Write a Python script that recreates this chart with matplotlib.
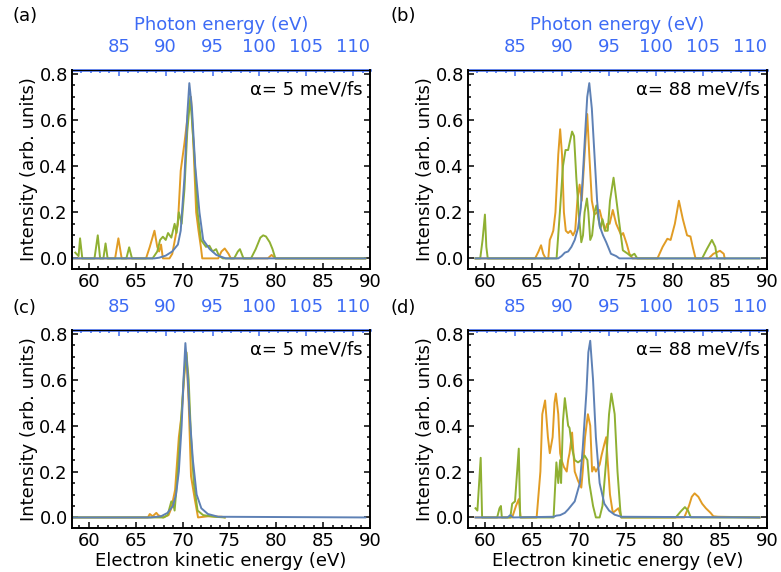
import matplotlib
matplotlib.use("Agg")
import matplotlib.pyplot as plt
from matplotlib.ticker import MultipleLocator

# spectra, electron kinetic energy (eV) vs intensity
# panel (a): alpha = 5 meV/fs
a_orange_x = [58.25, 62.8, 63.15, 63.5, 66.1, 66.5, 67.0, 67.3, 67.5, 67.7, 67.9, 68.6, 68.9,
              69.5, 69.8, 70.2, 70.55, 70.9, 71.15, 71.45, 71.7, 71.95, 72.1, 73.8, 74.15, 74.5,
              74.9, 75.15, 79.1, 79.5, 79.9, 89.5]
a_orange_y = [0, 0, 0.087, 0, 0, 0.05, 0.12, 0.05, 0.03, 0.06, 0.0, 0.0, 0.02,
              0.15, 0.38, 0.5, 0.62, 0.70, 0.5, 0.2, 0.12, 0.05, 0.0, 0.0, 0.03, 0.043,
              0.02, 0.0, 0.0, 0.015, 0.0, 0]
a_green_x = [58.55, 58.9, 59.06, 59.3, 60.6, 60.95, 61.2, 61.55, 61.78, 62.0, 64.0, 64.3, 64.6,
             66.8, 67.3, 67.6, 67.9, 68.2, 68.45, 68.8, 69.15, 69.35, 69.6, 69.9, 70.2, 70.5,
             70.83, 71.25, 71.6, 71.96, 72.5, 72.86, 73.2, 73.58, 73.9, 74.3, 75.5, 75.9, 76.12,
             76.5, 77.3, 77.8, 78.3, 78.6, 78.9, 79.3, 79.6, 79.9, 89.5]
a_green_y = [0.025, 0.01, 0.087, 0.0, 0.0, 0.10, 0.0, 0.0, 0.065, 0.0, 0.0, 0.048, 0.0,
             0.0, 0.03, 0.08, 0.094, 0.08, 0.11, 0.09, 0.15, 0.11, 0.2, 0.15, 0.3, 0.55,
             0.70, 0.45, 0.2, 0.08, 0.05, 0.055, 0.03, 0.04, 0.01, 0.0, 0.0, 0.03, 0.04,
             0.0, 0.0, 0.04, 0.09, 0.10, 0.095, 0.07, 0.04, 0.0, 0]
a_blue_x = [58.25, 67.0, 67.5, 68.2, 68.9, 69.5, 69.8, 70.2, 70.5, 70.72, 71.0, 71.35, 71.8,
            72.2, 72.9, 73.6, 74.6, 89.5]
a_blue_y = [0, 0, 0.003, 0.012, 0.03, 0.06, 0.12, 0.35, 0.62, 0.76, 0.65, 0.4, 0.2,
            0.08, 0.04, 0.015, 0.0, 0]

# panel (b): alpha = 88 meV/fs
b_orange_x = [59.0, 65.34, 65.7, 65.97, 66.2, 66.46, 66.74, 66.9, 67.1, 67.27, 67.5, 67.8, 68.0,
              68.2, 68.4, 68.6, 68.85, 69.1, 69.37, 69.6, 69.83, 70.07, 70.3, 70.6, 70.88, 71.1,
              71.37, 71.65, 71.93, 72.2, 72.5, 72.75, 73.0, 73.26, 73.6, 73.96, 74.5, 74.7, 75.1,
              75.37, 75.7, 78.35, 78.9, 79.4, 79.75, 80.2, 80.63, 81.05, 81.5, 81.86, 82.1, 82.4,
              83.8, 84.3, 85.0, 85.4, 85.5]
b_orange_y = [0, 0, 0.03, 0.057, 0.02, 0.0, 0.0, 0.08, 0.1, 0.12, 0.2, 0.45, 0.56,
              0.45, 0.2, 0.12, 0.11, 0.12, 0.1, 0.12, 0.25, 0.32, 0.25, 0.45, 0.626, 0.45,
              0.25, 0.19, 0.2, 0.21, 0.16, 0.12, 0.15, 0.15, 0.21, 0.15, 0.1, 0.11, 0.06,
              0.02, 0.0, 0.0, 0.05, 0.085, 0.08, 0.15, 0.25, 0.17, 0.1, 0.095, 0.05, 0.0,
              0.0, 0.02, 0.033, 0.02, 0.0]
b_green_x = [59.0, 59.5, 59.75, 60.0, 60.15, 60.3, 67.62, 67.97, 68.3, 68.57, 68.85, 69.0, 69.27,
             69.48, 69.72, 69.97, 70.25, 70.43, 70.6, 70.85, 71.0, 71.2, 71.4, 71.65, 71.86, 72.07,
             72.3, 72.5, 72.8, 73.06, 73.3, 73.68, 73.9, 74.3, 74.67, 75.2, 75.5, 75.9, 76.2,
             83.1, 83.6, 84.14, 84.5, 84.7, 89.2]
b_green_y = [0, 0.0, 0.08, 0.19, 0.05, 0.0, 0.0, 0.2, 0.4, 0.47, 0.47, 0.5, 0.55,
             0.53, 0.35, 0.2, 0.07, 0.1, 0.2, 0.26, 0.2, 0.08, 0.1, 0.2, 0.23, 0.17,
             0.13, 0.17, 0.12, 0.12, 0.25, 0.35, 0.28, 0.15, 0.035, 0.02, 0.01, 0.02, 0.0,
             0.0, 0.04, 0.08, 0.05, 0.0, 0]
b_blue_x = [59.0, 67.8, 68.15, 68.5, 68.85, 69.2, 69.55, 69.9, 70.2, 70.4, 70.67, 70.88, 71.1,
            71.37, 71.65, 71.93, 72.2, 72.56, 72.9, 73.4, 73.96, 74.3, 89.2]
b_blue_y = [0, 0, 0.01, 0.025, 0.03, 0.05, 0.08, 0.13, 0.22, 0.35, 0.55, 0.7, 0.76,
            0.65, 0.45, 0.25, 0.14, 0.10, 0.07, 0.02, 0.01, 0.0, 0]

# panel (c): alpha = 5 meV/fs
c_orange_x = [58.25, 66.3, 66.5, 66.8, 67.2, 67.4, 67.9, 68.5, 68.8, 69.2, 69.6, 69.9, 70.15,
              70.4, 70.65, 70.9, 71.3, 71.65, 72.7, 74.2, 74.5]
c_orange_y = [0, 0, 0.015, 0.005, 0.02, 0.01, 0.0, 0.01, 0.04, 0.12, 0.35, 0.45, 0.6,
              0.72, 0.5, 0.18, 0.08, 0.0, 0.005, 0.003, 0]
c_green_x = [58.25, 68.0, 68.4, 68.8, 69.0, 69.15, 69.4, 69.8, 70.15, 70.4, 70.65, 70.9, 71.2,
             71.6, 72.2, 73.4, 74.5]
c_green_y = [0, 0, 0.01, 0.07, 0.06, 0.03, 0.15, 0.4, 0.62, 0.72, 0.6, 0.35, 0.15,
             0.03, 0.01, 0.003, 0]
c_blue_x = [58.25, 66.6, 67.7, 68.4, 68.97, 69.3, 69.6, 69.9, 70.1, 70.3, 70.5, 70.75, 71.1,
            71.5, 72.0, 72.7, 73.8, 89.5]
c_blue_y = [0, 0, 0.005, 0.02, 0.05, 0.1, 0.2, 0.4, 0.6, 0.76, 0.65, 0.45, 0.25,
            0.1, 0.04, 0.015, 0.003, 0]

# panel (d): alpha = 88 meV/fs
d_orange_x = [59.0, 62.9, 63.3, 63.6, 63.8, 65.5, 65.9, 66.1, 66.4, 66.7, 66.9, 67.2, 67.4,
              67.55, 67.8, 68.0, 68.15, 68.4, 68.7, 68.85, 69.0, 69.27, 69.55, 69.9, 70.25, 70.4,
              70.65, 70.95, 71.2, 71.4, 71.6, 71.8, 72.2, 72.4, 72.7, 72.9, 73.05, 73.3, 73.6,
              73.9, 74.2, 74.5, 81.2, 81.7, 82.0, 82.3, 82.7, 83.1, 83.5, 84.0, 84.3, 84.8, 89.2]
d_orange_y = [0, 0, 0.05, 0.08, 0.0, 0.0, 0.2, 0.45, 0.51, 0.35, 0.28, 0.35, 0.5,
              0.54, 0.45, 0.28, 0.25, 0.22, 0.2, 0.25, 0.28, 0.37, 0.2, 0.16, 0.13, 0.2,
              0.35, 0.45, 0.4, 0.2, 0.22, 0.2, 0.23, 0.27, 0.32, 0.35, 0.25, 0.1, 0.02,
              0.03, 0.04, 0.0, 0.0, 0.05, 0.09, 0.105, 0.09, 0.06, 0.04, 0.02, 0.005, 0.003, 0]
d_green_x = [59.0, 59.2, 59.55, 59.7, 61.3, 61.55, 61.7, 61.8, 62.7, 62.9, 63.2, 63.6, 63.75,
             67.3, 67.6, 67.8, 68.0, 68.1, 68.3, 68.5, 68.85, 69.0, 69.27, 69.55, 69.9, 70.25,
             70.6, 70.9, 71.1, 71.5, 71.8, 72.2, 72.5, 72.9, 73.2, 73.45, 73.8, 74.1, 74.4,
             74.5, 80.3, 80.8, 81.27, 81.6, 81.9, 89.2]
d_green_y = [0.04, 0.03, 0.26, 0.0, 0.0, 0.04, 0.05, 0.0, 0.0, 0.06, 0.07, 0.3, 0.0,
             0.0, 0.24, 0.15, 0.25, 0.15, 0.42, 0.52, 0.40, 0.39, 0.3, 0.25, 0.24, 0.25,
             0.27, 0.25, 0.15, 0.05, 0.0, 0.0, 0.05, 0.25, 0.45, 0.54, 0.45, 0.2, 0.03,
             0.0, 0.0, 0.025, 0.045, 0.03, 0.0, 0]
d_blue_x = [59.0, 62.4, 62.7, 63.0, 67.3, 67.6, 68.0, 68.5, 68.85, 69.55, 70.1, 70.4, 70.8,
            71.0, 71.2, 71.5, 71.8, 72.2, 72.7, 73.2, 73.8, 74.5, 89.2]
d_blue_y = [0, 0, 0.01, 0.0, 0.003, 0.008, 0.01, 0.02, 0.035, 0.07, 0.15, 0.3, 0.55,
            0.72, 0.77, 0.6, 0.35, 0.15, 0.06, 0.03, 0.012, 0.003, 0]

panel_labels = ["(a)", "(b)", "(c)", "(d)"]
alpha_labels = ["\u03b1= 5 meV/fs", "\u03b1= 88 meV/fs", "\u03b1= 5 meV/fs", "\u03b1= 88 meV/fs"]
photon_ticks = [85, 90, 95, 100, 105, 110]
ip_offset = 21.8  # photon energy = electron energy + offset

c_orange = "#e19c24"
c_green = "#8fb032"
c_blue = "#5e81b5"
c_top = "#3d6bf5"

fs = 13
plt.rcParams["font.family"] = "DejaVu Sans"

fig = plt.figure(figsize=(7.81, 5.72), dpi=100)
W, H = 781.0, 572.0
rects = [(72, 70, 370, 269), (468, 70, 767, 269), (72, 330, 370, 528), (468, 330, 767, 528)]
data = [
    (a_orange_x, a_orange_y, a_green_x, a_green_y, a_blue_x, a_blue_y),
    (b_orange_x, b_orange_y, b_green_x, b_green_y, b_blue_x, b_blue_y),
    (c_orange_x, c_orange_y, c_green_x, c_green_y, c_blue_x, c_blue_y),
    (d_orange_x, d_orange_y, d_green_x, d_green_y, d_blue_x, d_blue_y),
]
label_pos = [(12, 16), (390, 16), (12, 308), (390, 308)]

for i in range(4):
    l, t, r, b = rects[i]
    ax = fig.add_axes([l / W, 1 - b / H, (r - l) / W, (b - t) / H])
    ox, oy, gx, gy, bx, by = data[i]
    ax.plot(ox, oy, color=c_orange, lw=1.4)
    ax.plot(gx, gy, color=c_green, lw=1.4)
    ax.plot(bx, by, color=c_blue, lw=1.4)

    ax.set_xlim(58.2, 90)
    ax.set_ylim(-0.046, 0.817)
    ax.set_xticks([60, 65, 70, 75, 80, 85, 90])
    ax.set_yticks([0.0, 0.2, 0.4, 0.6, 0.8])
    ax.set_yticklabels(["0.0", "0.2", "0.4", "0.6", "0.8"])
    ax.xaxis.set_minor_locator(MultipleLocator(1))
    ax.yaxis.set_minor_locator(MultipleLocator(0.05))
    ax.tick_params(which="both", direction="in", top=False, right=True, labelsize=fs, width=1.1)
    ax.tick_params(which="major", length=4.5, pad=3)
    ax.tick_params(which="minor", length=2.2)
    for s in ["left", "right", "bottom"]:
        ax.spines[s].set_linewidth(1.4)
    ax.set_ylabel("Intensity (arb. units)", fontsize=fs, labelpad=1)
    if i >= 2:
        ax.set_xlabel("Electron kinetic energy (eV)", fontsize=fs, labelpad=1)

    sec = ax.secondary_xaxis("top", functions=(lambda e: e + ip_offset, lambda p: p - ip_offset))
    sec.set_xticks(photon_ticks)
    sec.xaxis.set_minor_locator(MultipleLocator(1))
    sec.tick_params(which="both", direction="in", colors=c_top, labelsize=fs, pad=10, width=1.1)
    sec.tick_params(which="major", length=4.5)
    sec.tick_params(which="minor", length=2.2)
    sec.spines["top"].set_color(c_top)
    sec.spines["top"].set_linewidth(1.8)
    if i < 2:
        sec.set_xlabel("Photon energy (eV)", color=c_top, fontsize=fs, labelpad=6)

    ax.text(0.975, 0.9, alpha_labels[i], transform=ax.transAxes, ha="right", va="center",
            fontsize=fs)
    lx, ly = label_pos[i]
    fig.text(lx / W, 1 - ly / H, panel_labels[i], ha="left", va="center", fontsize=fs)

fig.savefig("out.png", dpi=100)
